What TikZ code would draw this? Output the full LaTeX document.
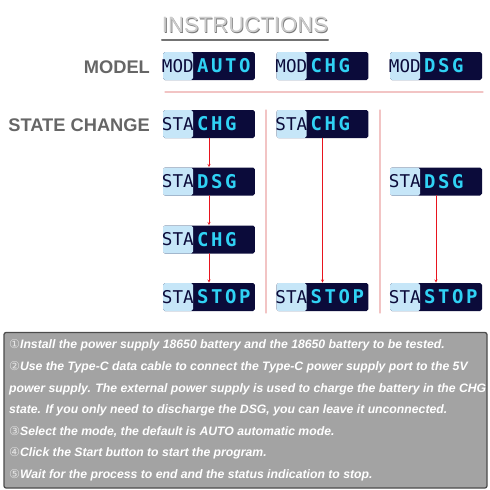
\documentclass[tikz,border=0pt]{standalone}
\usepackage{fontspec}
\setmainfont{Liberation Sans}
\newfontfamily\lcdfont[LetterSpace=14]{DejaVu Sans Mono}
\newfontfamily\tagfont{DejaVu Sans Mono}
\newfontfamily\numfont{DejaVu Sans}
\definecolor{lcdnavy}{HTML}{0B0B3A}
\definecolor{lcdlight}{HTML}{C6E6F8}
\definecolor{lcdcyan}{HTML}{30D2F4}
\definecolor{labelgray}{HTML}{666666}
\definecolor{guidepink}{HTML}{F2C4C4}
\definecolor{arrowred}{HTML}{E8141E}
\definecolor{panelgray}{HTML}{A3A3A3}
\definecolor{panelrim}{HTML}{4C4C4C}
\tikzset{
  lcd/.style={rectangle, rounded corners=2.5pt, fill=lcdnavy, minimum width=4.6cm, minimum height=1.4cm, inner sep=0pt,
    path picture={\fill[lcdlight] (path picture bounding box.north west) rectangle ([xshift=1.5cm]path picture bounding box.south west);}},
  lcdtag/.style={font=\tagfont\fontsize{25}{25}\selectfont, text=lcdnavy, inner sep=0pt},
  lcdval/.style={font=\lcdfont\bfseries\fontsize{27}{27}\selectfont, text=lcdcyan, inner sep=0pt, anchor=west},
  rowlabel/.style={font=\bfseries\fontsize{26}{26}\selectfont, text=labelgray, anchor=east, inner sep=0pt},
  infotext/.style={font=\bfseries\itshape\fontsize{17.4}{17.4}\selectfont, text=white, anchor=west, inner sep=0pt},
  guide/.style={guidepink, line width=1.5pt},
  flow/.style={->, >=stealth, arrowred, line width=0.9pt, shorten >=0.5pt}
}
\newcommand{\lcdbox}[5]{% name, x, y, tag, state
  \node[lcd] (#1) at (#2,#3) {};
  \node[lcdtag] (#1t) at ([xshift=0.75cm]#1.west) {#4};
  \node[lcdval] (#1v) at ([xshift=1.7cm]#1.west) {#5};
}
\newcommand{\cnum}[1]{{\numfont\mdseries\upshape\color{white!80!gray}#1}}
\begin{document}
\begin{tikzpicture}[x=0.05cm, y=-0.05cm, line join=round, line cap=round]
  \useasboundingbox (0,0) rectangle (490,490);
  % title
  \node[font=\fontsize{31.5}{31.5}\selectfont, text=gray!95!black, inner sep=0pt] (ttls) at (245.8,25.8) {INSTRUCTIONS};
  \node[font=\fontsize{31.5}{31.5}\selectfont, text=gray!40, inner sep=0pt] (ttl) at (245,25) {INSTRUCTIONS};
  \draw[gray!90!black, line width=2.2pt] (ttl.west |- 0,40) coordinate (ul1) -- (ttl.east |- 0,40) coordinate (ul2);
  % row labels
  \node[rowlabel] (model) at (150,67) {MODEL};
  \node[rowlabel] (state) at (150,125) {STATE CHANGE};
  % guide lines
  \draw[guide] (165,92) -- (483,92);
  \draw[guide] (266,110) -- (266,313);
  \draw[guide] (380,110) -- (380,313);
  % model row
  \lcdbox{ma}{209}{66}{MOD}{AUTO}
  \lcdbox{mb}{322.5}{66}{MOD}{CHG}
  \lcdbox{mc}{436}{66}{MOD}{DSG}
  % state change, column 1
  \lcdbox{sa}{209}{124}{STA}{CHG}
  \lcdbox{sb}{209}{181.5}{STA}{DSG}
  \lcdbox{sc}{209}{239.5}{STA}{CHG}
  \lcdbox{sd}{209}{297}{STA}{STOP}
  % state change, column 2
  \lcdbox{ta}{322.5}{124}{STA}{CHG}
  \lcdbox{td}{322.5}{297}{STA}{STOP}
  % state change, column 3
  \lcdbox{ub}{436}{181.5}{STA}{DSG}
  \lcdbox{ud}{436}{297}{STA}{STOP}
  \draw[flow] (sa) -- (sb);
  \draw[flow] (sb) -- (sc);
  \draw[flow] (sc) -- (sd);
  \draw[flow] (ta) -- (td);
  \draw[flow] (ub) -- (ud);
  % instructions panel
  \draw[panelrim, fill=panelgray, line width=1.8pt, rounded corners=3pt] (4,332.5) rectangle (487,488);
  \node[infotext] (l1) at (9,345.5) {\cnum{①}Install the power supply 18650 battery and the 18650 battery to be tested.};
  \node[infotext] (l2) at (9,367) {\cnum{②}Use the Type-C data cable to connect the Type-C power supply port to the 5V};
  \node[infotext] (l3) at (9,389) {power supply. The external power supply is used to charge the battery in the CHG};
  \node[infotext] (l4) at (9,410) {state. If you only need to discharge the DSG, you can leave it unconnected.};
  \node[infotext] (l5) at (9,431.5) {\cnum{③}Select the mode, the default is AUTO automatic mode.};
  \node[infotext] (l6) at (9,453) {\cnum{④}Click the Start button to start the program.};
  \node[infotext] (l7) at (9,475) {\cnum{⑤}Wait for the process to end and the status indication to stop.};
\end{tikzpicture}
\end{document}
